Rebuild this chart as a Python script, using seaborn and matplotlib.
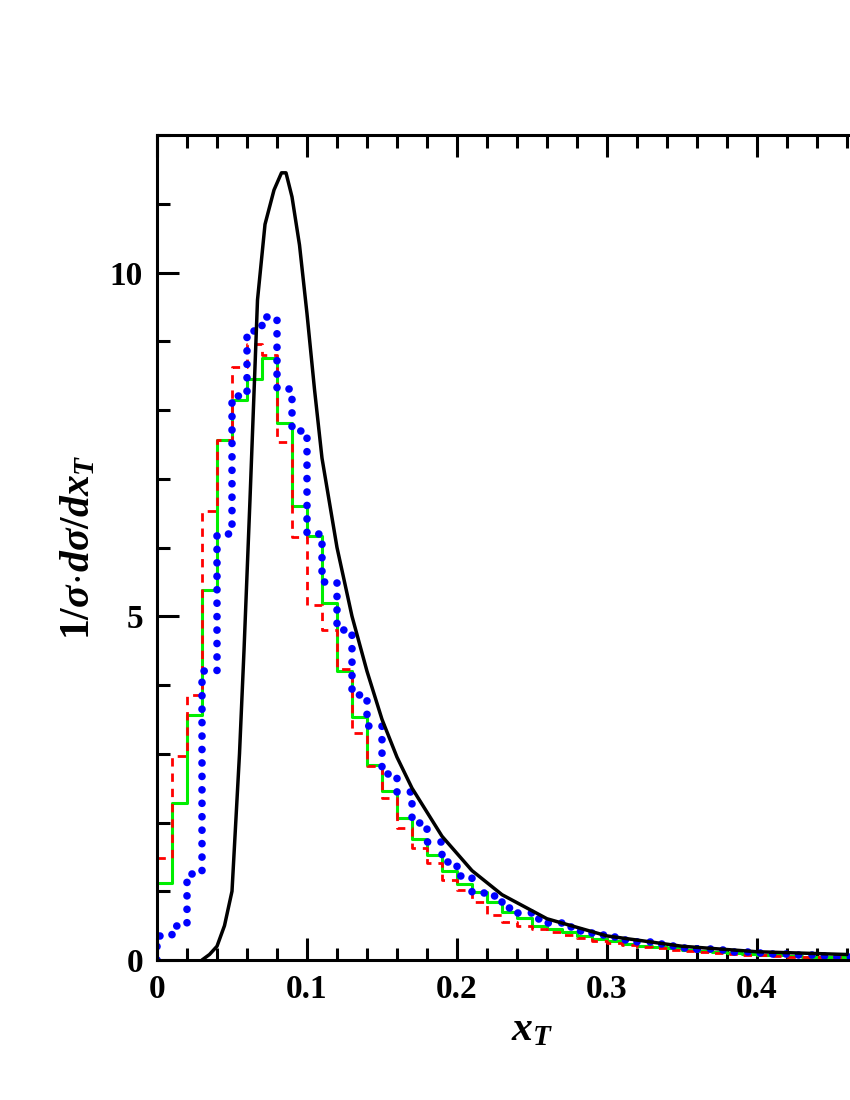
import numpy as np
import pandas as pd
import matplotlib
matplotlib.use("Agg")
import matplotlib.pyplot as plt
import seaborn as sns
from matplotlib.ticker import MultipleLocator

sns.set_theme(style="ticks")
plt.rcParams['font.family'] = ['Liberation Serif', 'DejaVu Serif']
plt.rcParams['mathtext.fontset'] = 'custom'
plt.rcParams['mathtext.rm'] = 'Liberation Serif:bold'
plt.rcParams['mathtext.it'] = 'Liberation Serif:bold:italic'
plt.rcParams['mathtext.bf'] = 'Liberation Serif:bold'
plt.rcParams['text.color'] = 'black'
plt.rcParams['axes.labelcolor'] = 'black'
plt.rcParams['xtick.color'] = 'black'
plt.rcParams['ytick.color'] = 'black'

bin_edges = [round(0.01 * i, 2) for i in range(48)]
green_vals = [1.12, 2.29, 3.56, 5.38, 7.57, 8.15, 8.45, 8.75, 7.81, 6.6, 6.17, 5.19, 4.2, 3.54, 2.83,
              2.46, 2.07, 1.76, 1.53, 1.30, 1.11, 0.99, 0.85, 0.70, 0.61, 0.50, 0.45, 0.40, 0.35, 0.30,
              0.27, 0.24, 0.21, 0.19, 0.17, 0.15, 0.13, 0.12, 0.10, 0.09, 0.08, 0.07, 0.06, 0.05, 0.05,
              0.04, 0.04]
red_vals = [1.49, 2.97, 3.86, 6.53, 7.57, 8.63, 8.96, 8.8, 7.54, 6.15, 5.16, 4.8, 4.23, 3.3, 2.82,
            2.36, 1.92, 1.63, 1.41, 1.17, 1.02, 0.85, 0.65, 0.55, 0.50, 0.45, 0.41, 0.37, 0.32, 0.28,
            0.25, 0.22, 0.19, 0.17, 0.15, 0.13, 0.12, 0.10, 0.09, 0.08, 0.07, 0.06, 0.05, 0.05, 0.04,
            0.04, 0.03]
blue_vals = [0.35, 0.5, 1.25, 4.2, 6.2, 8.2, 9.15, 9.35, 8.3, 7.7, 6.2, 5.5, 4.8, 3.85, 3.4,
             2.7, 2.45, 2.0, 1.72, 1.43, 1.22, 0.98, 0.93, 0.76, 0.68, 0.60, 0.54, 0.48, 0.42, 0.37,
             0.33, 0.29, 0.26, 0.23, 0.20, 0.18, 0.16, 0.14, 0.12, 0.11, 0.10, 0.09, 0.08, 0.07, 0.06,
             0.05, 0.05]
curve_x = [0.030, 0.035, 0.040, 0.045, 0.050, 0.055, 0.058, 0.062, 0.067, 0.072, 0.078, 0.083,
           0.086, 0.090, 0.095, 0.100, 0.105, 0.110, 0.120, 0.130, 0.140, 0.150, 0.160, 0.170,
           0.190, 0.210, 0.230, 0.260, 0.300, 0.350, 0.400, 0.460]
curve_y = [0.0, 0.08, 0.2, 0.5, 1.0, 3.0, 4.5, 6.7, 9.6, 10.7, 11.2, 11.45, 11.45, 11.1, 10.4,
           9.4, 8.3, 7.3, 6.0, 5.0, 4.2, 3.5, 2.95, 2.5, 1.8, 1.3, 0.95, 0.6, 0.35, 0.2, 0.12, 0.08]

centers = [(bin_edges[i] + bin_edges[i + 1]) / 2 for i in range(len(green_vals))]

fig = plt.figure(figsize=(8.5, 11), dpi=100)
ax = fig.add_axes([157 / 850, 140 / 1100, 750 / 850, 825 / 1100])

for vals, color, ls, lw in [(green_vals, '#00ee00', '-', 2.2),
                            (red_vals, '#ff0000', (0, (3, 2.5)), 2.0)]:
    df = pd.DataFrame({'x': centers, 'w': vals})
    sns.histplot(data=df, x='x', weights='w', bins=bin_edges, element='step', fill=False,
                 color=color, linestyle=ls, linewidth=lw, ax=ax)

# blue dotted step histogram
dfb = pd.DataFrame({'x': [0.0] + bin_edges[:len(blue_vals)] + [bin_edges[len(blue_vals)]],
                    'y': [0.0] + blue_vals + [blue_vals[-1]]})
n_before = len(ax.lines)
sns.lineplot(data=dfb, x='x', y='y', drawstyle='steps-post', color='#0000ff',
             linewidth=5.5, ax=ax, sort=False, estimator=None)
for ln in ax.lines[n_before:]:
    ln.set_dashes([0.01, 1.75])
    ln.set_dash_capstyle('round')

dfc = pd.DataFrame({'x': curve_x, 'y': curve_y})
sns.lineplot(data=dfc, x='x', y='y', color='black', linewidth=2.5, ax=ax)

ax.set_xlim(0, 0.5)
ax.set_ylim(0, 12)
ax.xaxis.set_minor_locator(MultipleLocator(0.02))
ax.yaxis.set_minor_locator(MultipleLocator(1))
ax.set_xticks([0, 0.1, 0.2, 0.3, 0.4])
ax.set_xticklabels(['0', '0.1', '0.2', '0.3', '0.4'])
ax.set_yticks([0, 5, 10])
ax.set_yticklabels(['0', '5', '10'])
ax.tick_params(which='major', direction='in', length=16, width=2.2, top=True, right=True,
               labelsize=24, pad=10, colors='black')
ax.tick_params(which='minor', direction='in', length=9, width=2.2, top=True, right=True,
               colors='black')
for lab in ax.get_xticklabels() + ax.get_yticklabels():
    lab.set_fontweight('bold')
for s in ax.spines.values():
    s.set_linewidth(2.2)
    s.set_color('black')
ax.set_xlabel(r'$x_T$', fontsize=30, labelpad=4, color='black')
ax.set_ylabel(r'$1/\sigma\!\cdot\! d\sigma/dx_T$', fontsize=30, labelpad=8, color='black')
fig.savefig('out.png', dpi=100)
